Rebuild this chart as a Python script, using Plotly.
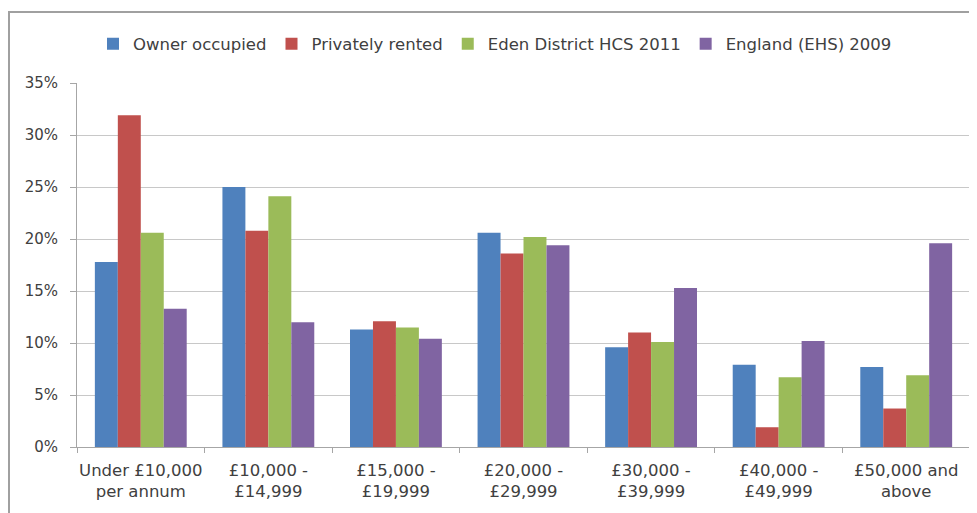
import plotly.graph_objects as go

categories = ["Under £10,000<br>per annum", "£10,000 -<br>£14,999", "£15,000 -<br>£19,999",
              "£20,000 -<br>£29,999", "£30,000 -<br>£39,999", "£40,000 -<br>£49,999",
              "£50,000 and<br>above"]
owner_occupied = [17.8, 25.0, 11.3, 20.6, 9.6, 7.9, 7.7]
privately_rented = [31.9, 20.8, 12.1, 18.6, 11.0, 1.9, 3.7]
eden_hcs_2011 = [20.6, 24.1, 11.5, 20.2, 10.1, 6.7, 6.9]
england_ehs_2009 = [13.3, 12.0, 10.4, 19.4, 15.3, 10.2, 19.6]

series = [
    ("Owner occupied", owner_occupied, "#4f81bd"),
    ("Privately rented", privately_rented, "#c0504d"),
    ("Eden District HCS 2011", eden_hcs_2011, "#9bbb59"),
    ("England (EHS) 2009", england_ehs_2009, "#8064a2"),
]

fig = go.Figure()
for name, vals, col in series:
    fig.add_trace(go.Bar(name=name, x=categories, y=[v / 100 for v in vals],
                         marker=dict(color=col, line=dict(width=0))))

# page has an 8px body margin, so figure coords = page coords - 8
OFF = 8
W, H = 977 - OFF, 513 - OFF
L, T = 77 - OFF, 83 - OFF
R = W - (970 - OFF)
B = H - (447 - OFF)
pw, ph = W - L - R, H - T - B

def px_to_paper_x(px):
    return (px - L) / pw

def px_to_paper_y(py):
    return (H - B - py) / ph

FONT = "DejaVu Sans, Verdana, Arial"

fig.update_layout(
    width=W, height=H,
    margin=dict(l=L, r=R, t=T, b=B, autoexpand=False),
    paper_bgcolor="white", plot_bgcolor="white",
    barmode="group", bargap=0.28, bargroupgap=0,
    font=dict(family=FONT, size=15, color="#404040"),
    legend=dict(orientation="h", xref="container", yref="container",
                x=(93 - OFF) / W, xanchor="left",
                y=1 - (44 - OFF) / H, yanchor="middle",
                font=dict(family=FONT, size=16.5, color="#404040"), itemwidth=30,
                traceorder="normal"),
    xaxis=dict(showline=True, linecolor="#a6a6a6", linewidth=1,
               ticks="outside", tickson="boundaries", ticklen=5, tickcolor="#a6a6a6",
               tickfont=dict(family=FONT, size=16.5, color="#404040"), showgrid=False,
               tickangle=0, ticklabelstandoff=8),
    yaxis=dict(range=[0, 0.35], dtick=0.05, tickformat=".0%",
               showline=True, linecolor="#a6a6a6", linewidth=1,
               ticks="outside", ticklen=6, tickcolor="#a6a6a6",
               gridcolor="#c8c8c8", gridwidth=1,
               tickfont=dict(family=FONT, size=15, color="#404040"), zeroline=False,
               ticklabelstandoff=9),
    shapes=[dict(type="rect", xref="paper", yref="paper",
                 x0=px_to_paper_x(1), x1=px_to_paper_x(967),
                 y0=px_to_paper_y(530), y1=px_to_paper_y(4),
                 line=dict(color="#a0a0a0", width=2), fillcolor="rgba(0,0,0,0)",
                 layer="below")],
)

fig.write_html("out.html")
